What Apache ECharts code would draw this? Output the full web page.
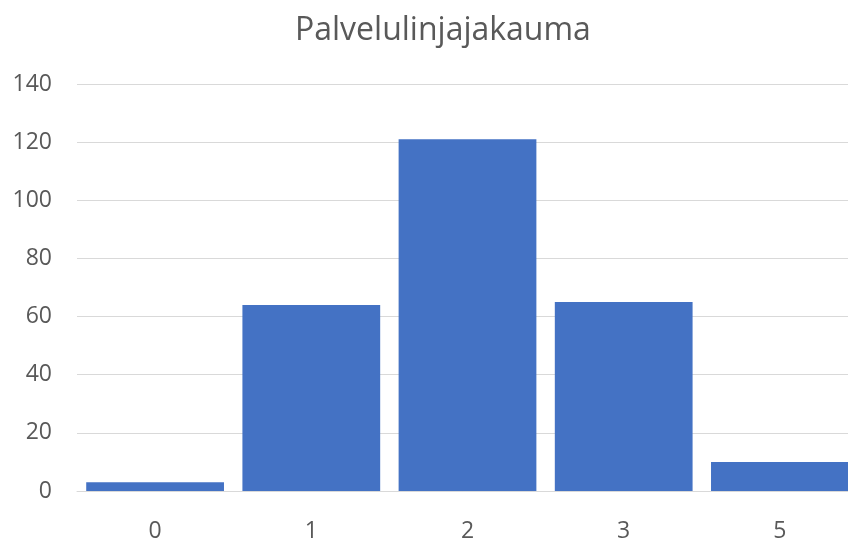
<!DOCTYPE html>
<html>
<head>
<meta charset="utf-8">
<script src="https://cdn.jsdelivr.net/npm/echarts@6/dist/echarts.min.js"></script>
<style>html,body{margin:0;padding:0;background:#fff}#c{width:848px;height:538px}</style>
</head>
<body>
<div id="c"></div>
<script>
var titleText = 'Palvelulinjajakauma';
var categories = ['0', '1', '2', '3', '5'];
var values = [3, 64, 121, 65, 10];
var yTicks = { min: 0, max: 140, interval: 20 };

var chart = echarts.init(document.getElementById('c'), null, { renderer: 'canvas' });
chart.setOption({
  animation: false,
  title: {
    text: titleText,
    left: 290,
    top: 10,
    textStyle: { fontFamily: 'Open Sans', fontSize: 32, fontWeight: 'normal', color: '#595959' }
  },
  grid: { left: 77, right: -10, top: 84, bottom: 47, containLabel: false, outerBoundsMode: 'none' },
  xAxis: {
    type: 'category',
    data: categories,
    axisLine: { show: true, lineStyle: { color: '#d9d9d9', width: 1 } },
    axisTick: { show: false },
    axisLabel: { margin: 29, fontFamily: 'Open Sans', fontSize: 23, color: '#595959' }
  },
  yAxis: {
    type: 'value',
    min: yTicks.min, max: yTicks.max, interval: yTicks.interval,
    axisLine: { show: false },
    axisTick: { show: false },
    splitLine: { lineStyle: { color: '#d9d9d9', width: 1 } },
    axisLabel: { margin: 25, fontFamily: 'Open Sans', fontSize: 23, color: '#595959' }
  },
  series: [{
    type: 'bar',
    data: values,
    barCategoryGap: '11.8%',
    itemStyle: { color: '#4472C4' }
  }]
});
</script>
</body>
</html>
